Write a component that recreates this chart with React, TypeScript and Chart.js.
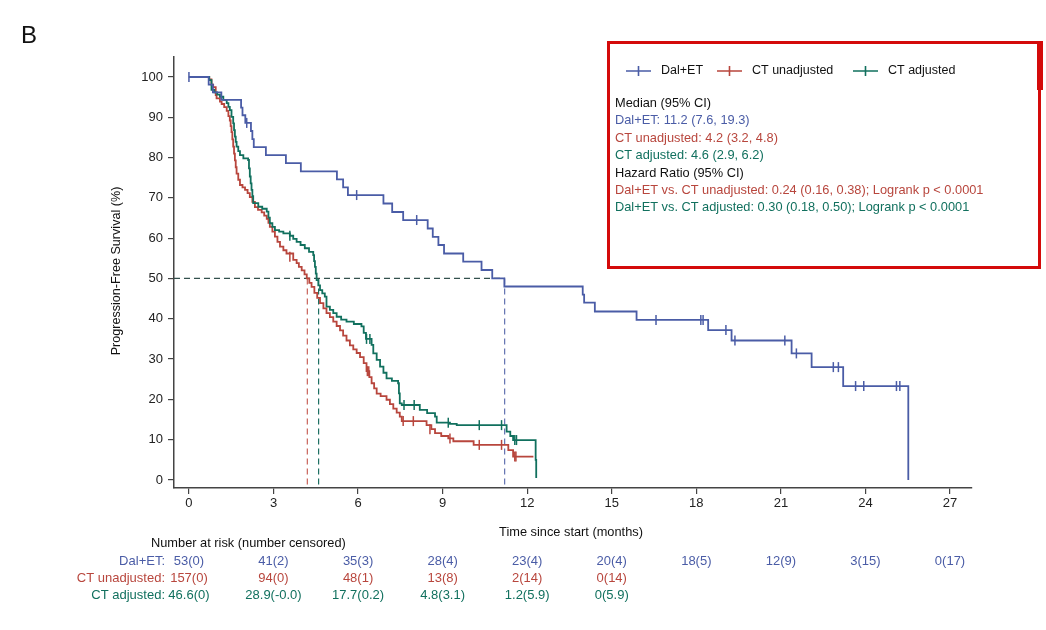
import React, { useEffect, useRef } from "react";
import { Chart, registerables } from "chart.js";

Chart.register(...registerables);

const BLUE = "#4a5ca6";
const RED = "#b8463d";
const GREEN = "#11705e";
const FONT_FAMILY = "'Liberation Sans', Arial, sans-serif";

// Axis ticks
const monthTicks = [0, 3, 6, 9, 12, 15, 18, 21, 24, 27];
const pctTicks = [0, 10, 20, 30, 40, 50, 60, 70, 80, 90, 100];

// Dal+ET Kaplan-Meier steps
const dalTimes = [0, 0.7, 0.85, 1.15, 1.85, 1.9, 2.0, 2.2, 2.25, 2.3, 2.73, 3.44, 3.97, 5.25, 5.47, 5.64, 6.9, 7.21, 7.6, 8.47, 8.65, 8.85, 9.05, 9.73, 10.38, 10.76, 11.19, 13.97, 14.02, 14.4, 15.88, 18.42, 19.25, 21.38, 22.09, 23.21, 25.52];
const dalSurv = [100, 98.1, 96.2, 94.3, 92.4, 90.5, 88.6, 86.6, 84.6, 82.6, 80.6, 78.6, 76.6, 74.6, 72.6, 70.7, 68.6, 66.5, 64.5, 62.4, 60.3, 58.3, 56.2, 54.2, 52.1, 50.0, 48.0, 46.0, 44.0, 41.8, 39.7, 37.2, 34.6, 31.4, 28.0, 23.3, 0];
const dalCensTimes = [0, 2.05, 5.95, 8.08, 16.57, 18.16, 18.24, 19.05, 19.37, 21.14, 21.55, 22.86, 23.04, 23.65, 23.94, 25.1, 25.22];
const dalCensSurv = [100, 88.6, 70.7, 64.5, 39.7, 39.7, 39.7, 37.2, 34.6, 34.6, 31.4, 28.0, 28.0, 23.3, 23.3, 23.3, 23.3];

// CT unadjusted steps
const ctuTimes = [0, 0.72, 0.8, 0.86, 0.95, 0.98, 1.1, 1.16, 1.25, 1.34, 1.4, 1.45, 1.48, 1.51, 1.54, 1.57, 1.6, 1.63, 1.66, 1.69, 1.75, 1.81, 1.9, 1.99, 2.08, 2.16, 2.25, 2.34, 2.45, 2.58, 2.67, 2.76, 2.82, 2.87, 2.96, 3.05, 3.14, 3.23, 3.35, 3.46, 3.7, 3.82, 3.9, 4.0, 4.1, 4.18, 4.27, 4.35, 4.45, 4.55, 4.65, 4.77, 4.88, 5.0, 5.12, 5.24, 5.36, 5.47, 5.59, 5.71, 5.83, 5.95, 6.07, 6.2, 6.3, 6.4, 6.48, 6.57, 6.66, 6.8, 7.01, 7.13, 7.25, 7.37, 7.48, 7.55, 8.43, 8.6, 8.73, 8.95, 9.2, 9.38, 10.1, 11.33, 11.5, 12.22];
const ctuSurv = [100, 99.4, 98.1, 97.5, 95.5, 94.7, 93.9, 93.3, 92.5, 91.6, 90.3, 89.2, 87.8, 86.3, 84.5, 82.7, 81.0, 79.3, 77.6, 76.0, 74.5, 73.2, 72.6, 72.0, 71.2, 70.2, 69.0, 67.7, 67.0, 66.4, 65.6, 64.8, 63.8, 62.8, 61.6, 60.4, 59.1, 57.9, 57.0, 56.2, 54.6, 53.8, 52.9, 52.0, 51.0, 50.0, 48.9, 47.9, 46.4, 45.2, 43.9, 42.6, 41.4, 40.4, 39.3, 38.2, 37.1, 35.8, 34.6, 33.4, 32.4, 31.5, 30.5, 29.0, 27.0, 25.5, 24.0, 22.7, 21.4, 20.8, 19.9, 18.8, 17.7, 16.7, 15.7, 14.6, 13.6, 12.6, 11.6, 10.9, 10.3, 9.6, 8.7, 7.4, 5.8, 5.8];
const ctuCensTimes = [3.58, 6.33, 6.38, 7.6, 7.96, 8.55, 9.26, 10.3, 11.09, 11.56, 11.6];
const ctuCensSurv = [55.4, 27.0, 27.0, 14.6, 14.6, 12.6, 10.3, 8.7, 8.7, 5.8, 5.8];

// CT adjusted steps
const ctaTimes = [0, 0.72, 0.8, 0.9, 1.0, 1.1, 1.22, 1.34, 1.4, 1.45, 1.51, 1.57, 1.6, 1.63, 1.66, 1.69, 1.75, 1.81, 1.93, 2.1, 2.13, 2.16, 2.19, 2.22, 2.25, 2.28, 2.46, 2.6, 2.76, 2.82, 2.87, 2.96, 3.05, 3.2, 3.35, 3.58, 3.7, 3.82, 3.96, 4.11, 4.26, 4.41, 4.44, 4.47, 4.5, 4.53, 4.59, 4.65, 4.73, 4.82, 4.88, 5.0, 5.12, 5.24, 5.4, 5.59, 5.85, 6.12, 6.2, 6.28, 6.48, 6.54, 6.66, 6.78, 6.9, 7.01, 7.2, 7.42, 7.45, 7.48, 7.55, 8.19, 8.45, 8.73, 8.79, 9.26, 9.5, 11.27, 11.4, 11.5, 12.27, 12.3, 12.32];
const ctaSurv = [100, 99.2, 96.8, 96.2, 95.6, 95.1, 94.3, 93.5, 92.6, 91.8, 90.1, 88.5, 86.8, 85.2, 83.9, 82.7, 81.6, 80.6, 79.8, 79.4, 77.3, 75.3, 73.6, 72.0, 70.4, 68.7, 67.8, 67.3, 66.6, 65.1, 63.7, 62.8, 62.0, 61.6, 61.2, 60.6, 59.8, 59.1, 58.3, 57.5, 56.6, 55.8, 54.3, 52.9, 51.2, 49.6, 48.3, 47.1, 46.3, 45.5, 43.0, 42.2, 41.4, 40.5, 39.8, 39.3, 38.7, 38.1, 36.5, 35.0, 33.5, 31.4, 29.8, 28.1, 26.6, 25.2, 24.6, 24.0, 21.5, 19.0, 18.6, 17.4, 16.6, 15.7, 14.2, 13.9, 13.6, 12.0, 10.9, 9.9, 9.9, 5.0, 0.5];
const ctaCensTimes = [3.58, 6.3, 6.42, 7.63, 7.99, 9.2, 10.3, 11.09, 11.56, 11.62];
const ctaCensSurv = [60.6, 35.0, 35.0, 18.6, 18.6, 14.2, 13.6, 13.6, 9.9, 9.9];

// Medians
const medianLevel = 50;
const medianTimes = [4.2, 4.6, 11.2];

// Risk table
const riskTimes = [0, 3, 6, 9, 12, 15, 18, 21, 24, 27];
const riskLabels = ["Dal+ET:", "CT unadjusted:", "CT adjusted:"];
const dalRisk = ["53(0)", "41(2)", "35(3)", "28(4)", "23(4)", "20(4)", "18(5)", "12(9)", "3(15)", "0(17)"];
const ctuRisk = ["157(0)", "94(0)", "48(1)", "13(8)", "2(14)", "0(14)"];
const ctaRisk = ["46.6(0)", "28.9(-0.0)", "17.7(0.2)", "4.8(3.1)", "1.2(5.9)", "0(5.9)"];

// Legend / annotation text
const seriesNames = ["Dal+ET", "CT unadjusted", "CT adjusted"];
const infoLines = [
  { text: "Median (95% CI)", color: "#111" },
  { text: "Dal+ET: 11.2 (7.6, 19.3)", color: BLUE },
  { text: "CT unadjusted: 4.2 (3.2, 4.8)", color: RED },
  { text: "CT adjusted: 4.6 (2.9, 6.2)", color: GREEN },
  { text: "Hazard Ratio (95% CI)", color: "#111" },
  { text: "Dal+ET vs. CT unadjusted: 0.24 (0.16, 0.38); Logrank p < 0.0001", color: RED },
  { text: "Dal+ET vs. CT adjusted: 0.30 (0.18, 0.50); Logrank p < 0.0001", color: GREEN },
];

const toPts = (xs: number[], ys: number[]) => xs.map((x, i) => ({ x, y: ys[i] }));
const font = (s: number) => `${s}px ${FONT_FAMILY}`;

const overlayPlugin = {
  id: "overlay",
  afterDraw(chart: any) {
    const ctx = chart.ctx as CanvasRenderingContext2D;
    const xs = chart.scales.x;
    ctx.save();
    ctx.textBaseline = "middle";

    // Panel letter
    ctx.fillStyle = "#111";
    ctx.font = font(24);
    ctx.textAlign = "left";
    ctx.fillText("B", 21, 36);

    // Axis titles
    ctx.font = font(12.6);
    ctx.save();
    ctx.translate(117, 271);
    ctx.rotate(-Math.PI / 2);
    ctx.textAlign = "center";
    ctx.fillText("Progression-Free Survival (%)", 0, 0);
    ctx.restore();
    ctx.textAlign = "center";
    ctx.font = font(12.8);
    ctx.fillText("Time since start (months)", 571, 532);

    // Risk table
    ctx.textAlign = "left";
    ctx.fillText("Number at risk (number censored)", 151, 543);
    const rows = [
      { label: riskLabels[0], values: dalRisk, color: BLUE },
      { label: riskLabels[1], values: ctuRisk, color: RED },
      { label: riskLabels[2], values: ctaRisk, color: GREEN },
    ];
    ctx.font = font(13);
    rows.forEach((row, r) => {
      const y = 561.7 + r * 16.7;
      ctx.fillStyle = row.color;
      ctx.textAlign = "right";
      ctx.fillText(row.label, 165, y);
      ctx.textAlign = "center";
      row.values.forEach((v, i) => ctx.fillText(v, xs.getPixelForValue(riskTimes[i]), y));
    });

    // Red frame
    ctx.strokeStyle = "#d40a0a";
    ctx.lineWidth = 3;
    ctx.strokeRect(608.5, 42.5, 431, 225);
    ctx.fillStyle = "#d40a0a";
    ctx.fillRect(1037, 41, 6, 49);

    // Legend entries
    const colors = [BLUE, RED, GREEN];
    const legendX = [626, 717, 853];
    const ly = 71;
    ctx.font = font(12.5);
    seriesNames.forEach((name, i) => {
      const x0 = legendX[i];
      ctx.strokeStyle = colors[i];
      ctx.lineWidth = 1.6;
      ctx.beginPath();
      ctx.moveTo(x0, ly);
      ctx.lineTo(x0 + 25, ly);
      ctx.moveTo(x0 + 12.5, ly - 5);
      ctx.lineTo(x0 + 12.5, ly + 5);
      ctx.stroke();
      ctx.fillStyle = "#111";
      ctx.textAlign = "left";
      ctx.fillText(name, x0 + 35, ly);
    });

    // Info text
    ctx.font = font(12.8);
    infoLines.forEach((ln, i) => {
      ctx.fillStyle = ln.color;
      ctx.textAlign = "left";
      ctx.fillText(ln.text, 615, 103.5 + i * 17.4);
    });

    ctx.restore();
  },
};

export default function App() {
  const ref = useRef<HTMLCanvasElement | null>(null);

  useEffect(() => {
    if (!ref.current) return;
    const curve = (data: any[], color: string) => ({
      type: "line" as const,
      data,
      borderColor: color,
      backgroundColor: color,
      borderWidth: 1.8,
      stepped: true,
      pointRadius: 0,
      fill: false,
    });
    const cens = (data: any[], color: string) => ({
      type: "scatter" as const,
      data,
      borderColor: color,
      backgroundColor: color,
      pointStyle: "line",
      rotation: 90,
      pointRadius: 5,
      borderWidth: 1.5,
      showLine: false,
    });
    const dash = (data: any[], color: string) => ({
      type: "line" as const,
      data,
      borderColor: color,
      borderWidth: 1.2,
      borderDash: [6, 4],
      pointRadius: 0,
      fill: false,
    });

    const xMin = -0.53;
    const yMin = -2;
    const chart = new Chart(ref.current, {
      type: "line",
      data: {
        datasets: [
          cens(toPts(dalCensTimes, dalCensSurv), BLUE),
          cens(toPts(ctaCensTimes, ctaCensSurv), GREEN),
          cens(toPts(ctuCensTimes, ctuCensSurv), RED),
          curve(toPts(dalTimes, dalSurv), BLUE),
          curve(toPts(ctaTimes, ctaSurv), GREEN),
          curve(toPts(ctuTimes, ctuSurv), RED),
          dash([{ x: xMin, y: medianLevel }, { x: medianTimes[2], y: medianLevel }], "#33504d"),
          dash([{ x: medianTimes[0], y: medianLevel }, { x: medianTimes[0], y: yMin }], "#c9625a"),
          dash([{ x: medianTimes[1], y: medianLevel }, { x: medianTimes[1], y: yMin }], "#1e6f62"),
          dash([{ x: medianTimes[2], y: medianLevel }, { x: medianTimes[2], y: yMin }], "#6272b0"),
        ] as any,
      },
      options: {
        animation: false,
        responsive: true,
        maintainAspectRatio: false,
        events: [],
        layout: { padding: { top: 57, right: 74, bottom: 0, left: 0 } },
        plugins: { legend: { display: false }, tooltip: { enabled: false }, title: { display: false } },
        scales: {
          x: {
            type: "linear",
            min: xMin,
            max: 27.78,
            afterFit: (s: any) => { s.height = 142; },
            afterBuildTicks: (s: any) => { s.ticks = monthTicks.map((v) => ({ value: v })); },
            grid: { drawOnChartArea: false, drawTicks: true, tickLength: 6, color: "#444", lineWidth: 1.2 },
            border: { display: true, color: "#444", width: 1.5 },
            ticks: { color: "#222", font: { family: FONT_FAMILY, size: 13 }, padding: 2, maxRotation: 0, autoSkip: false },
          },
          y: {
            type: "linear",
            min: yMin,
            max: 104.96,
            afterFit: (s: any) => { s.width = 174; },
            afterBuildTicks: (s: any) => { s.ticks = pctTicks.map((v) => ({ value: v })); },
            grid: { drawOnChartArea: false, drawTicks: true, tickLength: 6, color: "#444", lineWidth: 1.2 },
            border: { display: true, color: "#444", width: 1.5 },
            ticks: { color: "#222", font: { family: FONT_FAMILY, size: 13 }, padding: 5, autoSkip: false },
          },
        },
      } as any,
      plugins: [overlayPlugin],
    });
    return () => chart.destroy();
  }, []);

  return (
    <div style={{ position: "fixed", left: 0, top: 0, width: 1046, height: 630, background: "#fff" }}>
      <canvas ref={ref} />
    </div>
  );
}
